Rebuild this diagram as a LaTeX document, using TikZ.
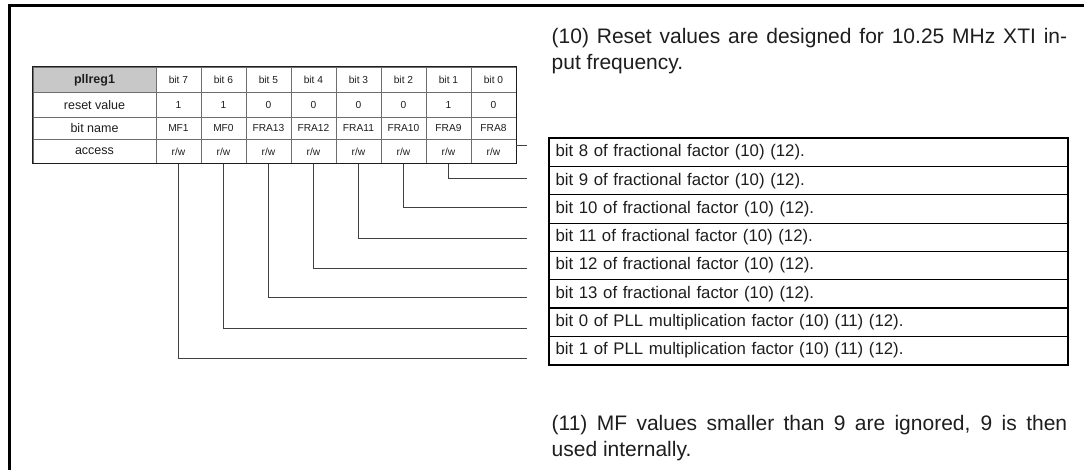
\documentclass[tikz,border=0pt]{standalone}
\usepackage{fontspec}
\setmainfont{Liberation Sans}
\definecolor{gridgray}{HTML}{6E6E6E}
\definecolor{headgray}{HTML}{C8C8C8}
\definecolor{ink}{HTML}{1E1E1E}
\begin{document}
\begin{tikzpicture}[x=1pt,y=-1pt,
  cell/.style={draw=gridgray, line width=0.7pt, inner sep=0pt, anchor=north west, text=ink},
  lab/.style={cell, minimum width=122.9pt, font=\fontsize{12.5}{14}\selectfont},
  bitc/.style={cell, minimum width=45pt, font=\fontsize{10.2}{12}\selectfont},
  lead/.style={draw=ink!85, line width=0.8pt},
  fbox/.style={draw=black, line width=1.1pt, anchor=north west, minimum width=518pt,
    minimum height=28.29pt, inner xsep=6pt, inner ysep=0pt, text width=506pt, align=left,
    font=\fontsize{16.8}{20}\selectfont, text=ink},
  note/.style={anchor=base west, inner sep=0pt, font=\fontsize{21}{26}\selectfont, text=ink}]
\useasboundingbox (0,0) rectangle (1084,470);
\fill[white] (0,0) rectangle (1084,470);
% frame
\draw[line width=2.6pt] (9.7,472) -- (9.7,5.3) -- (1086,5.3);

% table rows: label column
\node[lab, fill=headgray, minimum height=25.6pt, font=\fontsize{12.5}{14}\bfseries\selectfont] (l0) at (32.7,66.7) {pllreg1};
\node[lab, minimum height=24.4pt] (l1) at (32.7,92.3) {reset value};
\node[lab, minimum height=22.6pt] (l2) at (32.7,116.7) {bit name};
\node[lab, minimum height=24pt] (l3) at (32.7,139.3) {access};

\foreach \v [count=\k from 0] in {bit 7,bit 6,bit 5,bit 4,bit 3,bit 2,bit 1,bit 0}
  \node[bitc, minimum height=25.6pt] (h\k) at (155.6+45*\k,66.7) {\v};
\foreach \v [count=\k from 0] in {1,1,0,0,0,0,1,0}
  \node[bitc, minimum height=24.4pt] (v\k) at (155.6+45*\k,92.3) {\v};
\foreach \v [count=\k from 0] in {MF1,MF0,FRA13,FRA12,FRA11,FRA10,FRA9,FRA8}
  \node[bitc, minimum height=22.6pt] (n\k) at (155.6+45*\k,116.7) {\v};
\foreach \k in {0,...,7}
  \node[bitc, minimum height=24pt] (a\k) at (155.6+45*\k,139.3) {r/w};

% outer border of table
\draw[line width=1pt, draw=ink] (l0.north west) rectangle (a7.south east);

% description boxes
\foreach \t [count=\i from 0] in {
  bit 8 of fractional factor (10) (12).,
  bit 9 of fractional factor (10) (12).,
  bit 10 of fractional factor (10) (12).,
  bit 11 of fractional factor (10) (12).,
  bit 12 of fractional factor (10) (12).,
  bit 13 of fractional factor (10) (12).,
  bit 0 of PLL multiplication factor (10) (11) (12).,
  bit 1 of PLL multiplication factor (10) (11) (12).}
  \node[fbox] (r\i) at (549,137.7+28.29*\i) {\t};
\draw[line width=1.6pt] (r0.north west) rectangle (r7.south east);

% leader ends
\foreach \b/\yy in {0/145,1/178,2/207,3/238,4/268,5/297.5,6/328,7/358}
  \coordinate (e\b) at (527,\yy);

\draw[lead] (a7.east |- e0) -- (e0);
\foreach \b in {1,...,7}{
  \pgfmathtruncatemacro{\k}{7-\b}
  \draw[lead] (a\k.south) |- (e\b);
}

% notes
\node[note] (n10a) at (551.5,43.3) {\makebox[515.5pt][s]{(10) Reset values are designed for 10.25 MHz XTI in-}};
\node[note] (n10b) at (551.5,69.3) {put frequency.};
\node[note] (n11a) at (551.5,430) {\makebox[515.5pt][s]{(11) MF values smaller than 9 are ignored, 9 is then}};
\node[note] (n11b) at (551.5,456) {used internally.};
\end{tikzpicture}
\end{document}
